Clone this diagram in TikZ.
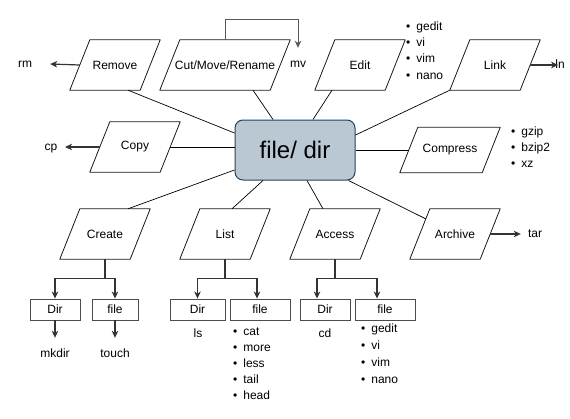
\documentclass[tikz,border=0pt]{standalone}
\usepackage{fontspec}
\setmainfont{Liberation Sans}
\usetikzlibrary{arrows.meta,calc}
\definecolor{fdfill}{HTML}{BAC8D3}
\definecolor{fdline}{HTML}{23445D}
\newcommand{\lbl}{\fontsize{12}{14}\selectfont}

\begin{document}
\begin{tikzpicture}[x=1pt,y=-1pt,>=Stealth,
  para/.style={minimum width=90,minimum height=50,inner sep=0,font=\lbl},
  paraedge/.style={draw=black!90,line width=0.8pt,line join=round},
  kind/.style={draw=black!70,line width=0.9pt,minimum height=21,inner sep=0,font=\lbl},
  cmd/.style={inner sep=0,text height=8.5,text depth=2.5,font=\lbl},
  item/.style={cmd,anchor=west},
  spoke/.style={black,line width=0.7pt},
  arr/.style={-{Stealth[length=7pt,width=6.5pt,inset=2pt]},black!80,line width=1.2pt}]
  \useasboundingbox (0,0) rectangle (570,418);
  % centre box
  \node[draw=fdline,fill=fdfill,rounded corners=8,minimum width=120,minimum height=60,
    line width=1pt,font=\fontsize{24}{28}\selectfont] (fd) at (295,150) {file/ dir};
  % operations
  \node[para] (remove) at (115,65) {Remove};
  \node[para,minimum width=130] (cut) at (225,65) {Cut/Move/Rename};
  \node[para] (edit) at (360,65) {Edit};
  \node[para] (link) at (495,65) {Link};
  \node[para] (copy) at (135,147) {Copy};
  \node[para,minimum width=100,minimum height=45] (compress) at (450,150) {Compress};
  \node[para] (create) at (105,234) {Create};
  \node[para] (list) at (225,234) {List};
  \node[para] (access) at (335,234) {Access};
  \node[para] (archive) at (455,234) {Archive};
  % slanted outlines
  \foreach \n/\d in {remove/20,cut/20,edit/20,link/20,copy/20,compress/18,
      create/20,list/20,access/20,archive/20}
    \draw[paraedge] ([xshift=\d]\n.north west) -- (\n.north east)
      -- ([xshift=-\d]\n.south east) -- (\n.south west) -- cycle;
  % Dir / file boxes
  \node[kind,minimum width=50] (crdir) at (55,309.5) {Dir};
  \node[kind,minimum width=46] (crfile) at (115,309.5) {file};
  \node[kind,minimum width=55] (lsdir) at (197.5,309.5) {Dir};
  \node[kind,minimum width=60] (lsfile) at (260,309.5) {file};
  \node[kind,minimum width=50] (acdir) at (325,309.5) {Dir};
  \node[kind,minimum width=60] (acfile) at (385,309.5) {file};
  % commands
  \node[cmd] (rm) at (25,64) {rm};
  \node[cmd] (cp) at (51,147) {cp};
  \node[cmd] (mv) at (298,64) {mv};
  \node[cmd] (ln) at (560,65) {ln};
  \node[cmd] (tar) at (535,234) {tar};
  \node[cmd] (mkdir) at (55,354) {mkdir};
  \node[cmd] (touch) at (115,354) {touch};
  \node[cmd] (ls) at (198,334) {ls};
  \node[cmd] (cd) at (325,334) {cd};
  % bullet lists
  \foreach \w [count=\i] in {gedit,vi,vim,nano}
    \node[item] (ed\i) at (406,{27+16.4*(\i-1)}) {\textbullet\hspace{6pt}\w};
  \foreach \w [count=\i] in {gzip,bzip2,xz}
    \node[item] (gz\i) at (511,{132+16*(\i-1)}) {\textbullet\hspace{6pt}\w};
  \foreach \w [count=\i] in {cat,more,less,tail,head}
    \node[item] (vw\i) at (233,{332+16.2*(\i-1)}) {\textbullet\hspace{6pt}\w};
  \foreach \w [count=\i] in {gedit,vi,vim,nano}
    \node[item] (op\i) at (361,{329+17*(\i-1)}) {\textbullet\hspace{6pt}\w};
  % spokes to the centre
  \draw[spoke] ([xshift=13]remove.south) -- ([yshift=17]fd.west);
  \draw[spoke] ([xshift=28]cut.south) -- ([xshift=-22]fd.north);
  \draw[spoke] ([xshift=-28]edit.south) -- ([xshift=18]fd.north);
  \draw[spoke] (link.south west) -- ([yshift=15]fd.east);
  \draw[spoke] ([xshift=-10]copy.east) -- (copy.east -| fd.west);
  \draw[spoke] (fd.east) -- ([xshift=9]compress.west);
  \draw[spoke] ([xshift=23]create.north) -- ([yshift=-20]fd.west);
  \draw[spoke] ([xshift=7]list.north) -- ([xshift=-32]fd.south);
  \draw[spoke] ([xshift=-12]access.north) -- ([xshift=12]fd.south);
  \draw[spoke] ($([xshift=20pt]archive.north west)!0.2!(archive.south west)$) -- ([xshift=-7]fd.south east);
  % command arrows
  \draw[arr] ([xshift=10]remove.west) -- ([xshift=18]rm.east);
  \draw[arr] ([xshift=10]copy.west) -- ([xshift=7.5]cp.east);
  \draw[arr] ([xshift=-10]link.east) -- ([xshift=3]ln.west);
  \draw[arr] ([xshift=-10]archive.east) -- ([xshift=-7]tar.west);
  \draw[arr,black!65,line width=1pt] (cut.north) -- ++(0,-20) -| ([yshift=10.5]mv.north);
  % branches
  \draw[arr] (create.south) -- ++(0,19) -| (crdir.north);
  \draw[arr] (create.south) -- ++(0,19) -| (crfile.north);
  \draw[arr] (list.south) -- ++(0,19) -| (lsdir.north);
  \draw[arr] (list.south) -- ++(0,19) -| ([xshift=-3]lsfile.north);
  \draw[arr] (access.south) -- ++(0,19) -| ([xshift=-8]acdir.north);
  \draw[arr] (access.south) -- ++(0,19) -| ([xshift=-8]acfile.north);
  \draw[arr] (crdir.south) -- ([yshift=10.5]mkdir.north);
  \draw[arr] (crfile.south) -- ([yshift=10.5]touch.north);
\end{tikzpicture}
\end{document}
